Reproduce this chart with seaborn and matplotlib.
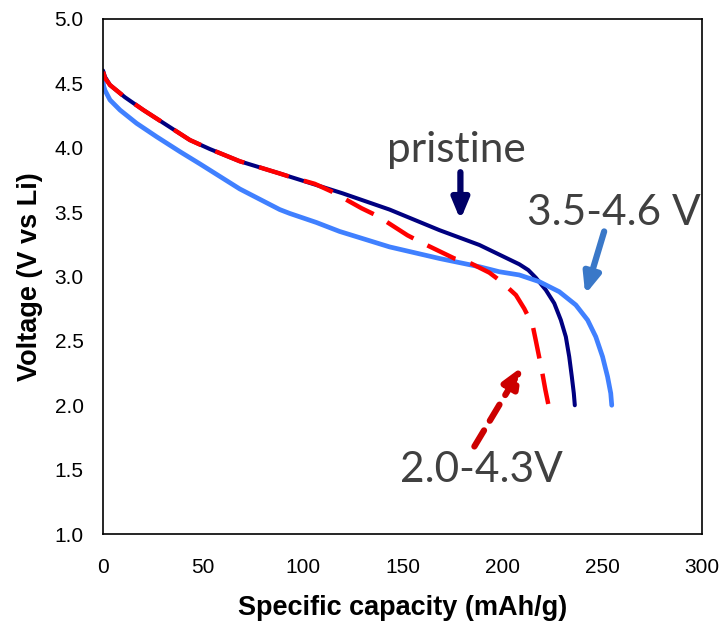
import matplotlib
matplotlib.use('Agg')

import pandas as pd
import seaborn as sns
import matplotlib.pyplot as plt

# discharge curves (capacity mAh/g, voltage V)
pristine_cap = [0, 1, 3.5, 11, 20.2, 31.8, 43.5, 53.5, 68.5, 88.5, 106.8, 120, 143.5, 168.5, 188.5,
                198.5, 208.5, 213, 216.8, 221.8, 226, 229.3, 231.8, 233.5, 234.8, 235.8, 236.3]
pristine_v = [4.60, 4.55, 4.487, 4.392, 4.293, 4.177, 4.06, 3.99, 3.895, 3.80, 3.711, 3.646, 3.52, 3.36, 3.245,
              3.17, 3.095, 3.05, 2.99, 2.895, 2.792, 2.662, 2.532, 2.377, 2.222, 2.093, 2.0]

wide_cap = [0, 0.3, 1, 3.5, 8.5, 16.8, 26.8, 38.5, 48.5, 68.5, 88.5, 93.5, 106.8, 118.5, 143.5, 168.5,
            188.5, 198.5, 208.5, 218.5, 228.5, 236.8, 242.7, 246.8, 250.2, 252.7, 254.3, 254.8]
wide_v = [4.52, 4.48, 4.445, 4.371, 4.293, 4.19, 4.086, 3.97, 3.875, 3.68, 3.52, 3.49, 3.42, 3.35, 3.23, 3.14,
          3.076, 3.037, 3.012, 2.96, 2.882, 2.779, 2.662, 2.532, 2.377, 2.222, 2.093, 2.0]

narrow_cap = [0, 1, 3.5, 11, 20.2, 31.8, 43.5, 53.5, 68.5, 88.5, 93.5, 106, 114.5, 129.5, 137.5, 152.5,
              160, 176, 184.5, 193.5, 199.5, 206.8, 211, 215.2, 216.8, 219.8, 221.5, 223]
narrow_v = [4.59, 4.54, 4.487, 4.392, 4.293, 4.177, 4.06, 3.99, 3.895, 3.80, 3.775, 3.72, 3.66, 3.53, 3.47, 3.32,
            3.26, 3.14, 3.10, 3.03, 2.96, 2.856, 2.75, 2.62, 2.50, 2.27, 2.124, 2.01]

x_ticks = [0, 50, 100, 150, 200, 250, 300]
y_ticks = [1.0, 1.5, 2.0, 2.5, 3.0, 3.5, 4.0, 4.5, 5.0]

sns.set_style('white')
plt.rcParams['font.family'] = ['Liberation Sans', 'DejaVu Sans']

fig = plt.figure(figsize=(7.24, 6.27), dpi=100)
ax = fig.add_axes([0.1423, 0.1483, 0.8273, 0.8214])

pristine = pd.DataFrame({'cap': pristine_cap, 'v': pristine_v})
wide = pd.DataFrame({'cap': wide_cap, 'v': wide_v})
narrow = pd.DataFrame({'cap': narrow_cap, 'v': narrow_v})

sns.lineplot(data=pristine, x='cap', y='v', sort=False, color='#000080', linewidth=2.9, ax=ax)
sns.lineplot(data=wide, x='cap', y='v', sort=False, color='#4080ff', linewidth=3.4, ax=ax)
sns.lineplot(data=narrow, x='cap', y='v', sort=False, color='#ff0000', linewidth=3.2,
             linestyle=(0, (7, 3.5)), ax=ax)

ax.set_xlim(0, 300)
ax.set_ylim(1.0, 5.0)
ax.set_xticks(x_ticks)
ax.set_yticks(y_ticks)
ax.set_xticklabels([str(t) for t in x_ticks])
ax.set_yticklabels([f'{t:.1f}' for t in y_ticks])
ax.tick_params(axis='both', direction='in', length=5, width=1, color='#555555',
               labelsize=15, labelcolor='black')
ax.tick_params(axis='x', pad=17)
ax.tick_params(axis='y', pad=14)
for sp in ax.spines.values():
    sp.set_color('black')
    sp.set_linewidth(1.2)

ax.set_xlabel('Specific capacity (mAh/g)', fontsize=19.5, fontweight='bold', labelpad=13, color='black')
ax.set_ylabel('Voltage (V vs Li)', fontsize=19.5, fontweight='bold', labelpad=8, color='black')

note = dict(fontsize=30.5, color='#404040', family=['Lato', 'DejaVu Sans'], ha='center', va='center')
ax.text(177, 3.98, 'pristine', **note)
ax.text(256, 3.49, '3.5-4.6 V', **note)
ax.text(189.5, 1.50, '2.0-4.3V', **note)

ax.annotate('', xy=(179, 3.44), xytext=(179, 3.81),
            arrowprops=dict(arrowstyle='-|>,head_length=1.2,head_width=0.5', color='#000066',
                            lw=4.5, shrinkA=0, shrinkB=0))
ax.annotate('', xy=(241.5, 2.86), xytext=(251, 3.35),
            arrowprops=dict(arrowstyle='-|>,head_length=1.2,head_width=0.5', color='#3a78c8',
                            lw=4.5, shrinkA=0, shrinkB=0))
ax.annotate('', xy=(210, 2.30), xytext=(186, 1.68),
            arrowprops=dict(arrowstyle='-|>,head_length=1.2,head_width=0.5', color='#cc0000',
                            lw=4.5, linestyle=(0, (3, 1.8)), shrinkA=0, shrinkB=0))

fig.savefig('out.png', dpi=100)
